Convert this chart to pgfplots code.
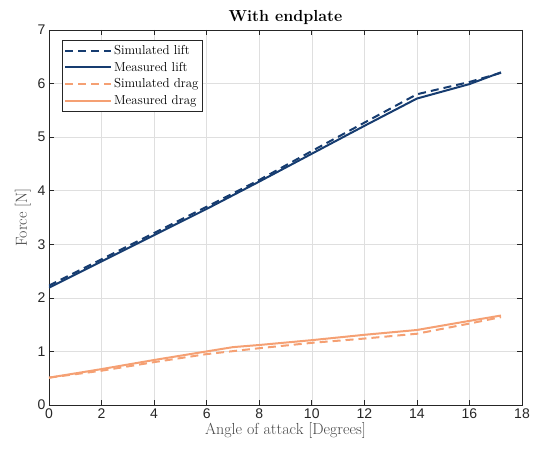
\documentclass[border=0pt]{standalone}
\usepackage{fontspec}
\usepackage{pgfplots}
\pgfplotsset{compat=1.18}
\usetikzlibrary{calc}
\newfontfamily\ticksf{Liberation Sans}
\definecolor{liftblue}{RGB}{22,60,112}
\definecolor{dragorange}{RGB}{245,160,115}
\definecolor{axgray}{RGB}{38,38,38}
\begin{document}
\begin{tikzpicture}
\begin{axis}[
    scale only axis, width=473pt, height=375pt,
    xmin=0, xmax=18, ymin=0, ymax=7,
    xtick={0,2,...,18}, ytick={0,1,...,7},
    tick align=inside, major tick length=5pt,
    axis line style={axgray, line width=0.6pt},
    tick style={axgray, line width=0.6pt},
    grid=major, grid style={gray!25, line width=0.5pt},
    /pgf/number format/assume math mode=true,
    ticklabel style={font=\ticksf\fontsize{14}{16}\selectfont, text=axgray},
    title={\textbf{With endplate}},
    title style={font=\fontsize{16}{18}\selectfont, yshift=-4pt},
    xlabel={Angle of attack [Degrees]},
    ylabel={Force [N]},
    label style={font=\fontsize{16}{18}\selectfont, text=axgray!85},
    xlabel style={yshift=3pt},
    legend cell align=left,
    legend style={at={(0.027,0.973)}, anchor=north west, draw=axgray, line width=0.6pt,
        font=\fontsize{13}{15}\selectfont, row sep=2pt, inner ysep=3pt, inner xsep=2pt},
    legend image code/.code={\draw[#1, line width=2pt] (0pt,0pt) -- (46pt,0pt);},
  ]
  \addplot[liftblue, line width=2pt, dash pattern=on 8pt off 5pt] coordinates {
    (0,2.23) (2,2.72) (4,3.21) (6,3.70) (8,4.20) (10,4.74) (12,5.27) (14,5.80) (16,6.03) (17.2,6.20)};
  \addlegendentry{Simulated lift}
  \addplot[liftblue, line width=2pt] coordinates {
    (0,2.19) (2,2.68) (4,3.17) (6,3.66) (8,4.17) (10,4.69) (12,5.21) (14,5.72) (16,5.99) (17.2,6.21)};
  \addlegendentry{Measured lift}
  \addplot[dragorange, line width=2pt, dash pattern=on 8pt off 5pt] coordinates {
    (0,0.51) (2,0.64) (4,0.80) (6,0.95) (8,1.06) (10,1.16) (12,1.24) (14,1.33) (16,1.52) (17.2,1.64)};
  \addlegendentry{Simulated drag}
  \addplot[dragorange, line width=2pt] coordinates {
    (0,0.51) (2,0.67) (4,0.84) (6,1.00) (7,1.08) (8,1.12) (10,1.21) (12,1.31) (14,1.40) (16,1.57) (17.2,1.67)};
  \addlegendentry{Measured drag}
\end{axis}
\pgfresetboundingbox
\path ($(current axis.south west)+(-49pt,-45pt)$) rectangle ($(current axis.north east)+(14pt,30pt)$);
\end{tikzpicture}
\end{document}
